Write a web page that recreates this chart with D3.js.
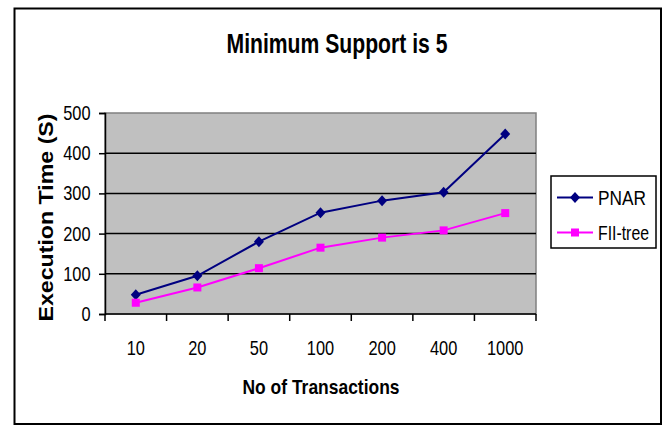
<!DOCTYPE html>
<html>
<head>
<meta charset="utf-8">
<script src="https://cdn.jsdelivr.net/npm/d3@7"></script>
<style>
  html, body { margin: 0; padding: 0; background: #fff; }
  svg { display: block; }
  text { font-family: "Liberation Sans Narrow", "Arial Narrow", "Liberation Sans", Arial, sans-serif; }
</style>
</head>
<body>
<svg id="chart" width="667" height="426"></svg>
<script>
const categories = ["10", "20", "50", "100", "200", "400", "1000"];
const pnarValues = [48, 95, 180, 252, 282, 303, 448];
const fiiTreeValues = [28, 66, 114, 165, 190, 208, 251];
const yTicks = [0, 100, 200, 300, 400, 500];
const seriesNames = ["PNAR", "FII-tree"];
const titleText = "Minimum Support is 5";
const xTitle = "No of Transactions";
const yTitle = "Execution Time (S)";

const NARROW = 0.82;
const svg = d3.select("#chart");

// outer frame
svg.append("rect")
  .attr("x", 14.5).attr("y", 8.5).attr("width", 646.5).attr("height", 415.5)
  .attr("fill", "#fff").attr("stroke", "#000").attr("stroke-width", 2);

const plot = { left: 105, right: 536, top: 113, bottom: 314 };

const x = d3.scaleBand().domain(categories).range([plot.left, plot.right]).padding(0);
const y = d3.scaleLinear().domain([0, 500]).range([plot.bottom, plot.top]);

// plot area
svg.append("rect")
  .attr("x", plot.left).attr("y", plot.top)
  .attr("width", plot.right - plot.left).attr("height", plot.bottom - plot.top)
  .attr("fill", "#C0C0C0").attr("stroke", "#808080").attr("stroke-width", 1.5);

// gridlines
svg.append("g").selectAll("line")
  .data(yTicks.filter(d => d > 0 && d < 500))
  .join("line")
  .attr("x1", plot.left).attr("x2", plot.right)
  .attr("y1", d => y(d)).attr("y2", d => y(d))
  .attr("stroke", "#000").attr("stroke-width", 1.5);

// y axis
const yAxis = svg.append("g")
  .attr("transform", `translate(${plot.left},0)`)
  .call(d3.axisLeft(y).tickValues(yTicks).tickSize(6).tickPadding(8).tickFormat(d3.format("d")));
yAxis.select(".domain").attr("stroke", "#000").attr("stroke-width", 1.5);
yAxis.selectAll(".tick line").attr("stroke", "#000").attr("stroke-width", 1.5);
yAxis.selectAll(".tick text")
  .attr("font-size", 20).attr("fill", "#000")
  .attr("x", -14.5 / NARROW)
  .attr("transform", `scale(${NARROW},1)`)
  .style("font-family", '"Liberation Sans", Arial, sans-serif');

// x axis (labels centered, ticks at band boundaries)
const xAxis = svg.append("g")
  .attr("transform", `translate(0,${plot.bottom})`)
  .call(d3.axisBottom(x).tickSize(0).tickPadding(27));
xAxis.select(".domain").remove();
xAxis.selectAll(".tick text")
  .attr("font-size", 20).attr("fill", "#000")
  .attr("transform", `scale(${NARROW},1)`)
  .style("font-family", '"Liberation Sans", Arial, sans-serif');
svg.append("line")
  .attr("x1", plot.left).attr("x2", plot.right)
  .attr("y1", plot.bottom).attr("y2", plot.bottom)
  .attr("stroke", "#000").attr("stroke-width", 1.5);
const boundaries = categories.map(c => x(c)).concat([x(categories[categories.length - 1]) + x.bandwidth()]);
svg.append("g").selectAll("line")
  .data(boundaries)
  .join("line")
  .attr("x1", d => d).attr("x2", d => d)
  .attr("y1", plot.bottom).attr("y2", plot.bottom + 7)
  .attr("stroke", "#000").attr("stroke-width", 1.5);

// series
const cx = c => x(c) + x.bandwidth() / 2;
const line = d3.line().x((d, i) => cx(categories[i])).y(d => y(d));

const wideDiamond = {
  draw(context, size) {
    const h = Math.sqrt(size) / 2;
    context.moveTo(0, -h * 1.1);
    context.lineTo(h, 0);
    context.lineTo(0, h * 1.1);
    context.lineTo(-h, 0);
    context.closePath();
  }
};
const diamond = d3.symbol().type(wideDiamond).size(100);

svg.append("path").datum(pnarValues)
  .attr("d", line).attr("fill", "none").attr("stroke", "#000080").attr("stroke-width", 2);
svg.append("path").datum(fiiTreeValues)
  .attr("d", line).attr("fill", "none").attr("stroke", "#FF00FF").attr("stroke-width", 2);

svg.append("g").selectAll("path")
  .data(pnarValues)
  .join("path")
  .attr("d", diamond)
  .attr("transform", (d, i) => `translate(${cx(categories[i])},${y(d)})`)
  .attr("fill", "#000080");

const sq = 8;
svg.append("g").selectAll("rect")
  .data(fiiTreeValues)
  .join("rect")
  .attr("x", (d, i) => cx(categories[i]) - sq / 2)
  .attr("y", d => y(d) - sq / 2)
  .attr("width", sq).attr("height", sq)
  .attr("fill", "#FF00FF");

// title
svg.append("text")
  .attr("x", 337).attr("y", 53)
  .attr("text-anchor", "middle")
  .attr("font-size", 27).attr("font-weight", "bold")
  .attr("textLength", 221).attr("lengthAdjust", "spacingAndGlyphs")
  .text(titleText);

// x title
svg.append("text")
  .attr("x", 321).attr("y", 394)
  .attr("text-anchor", "middle")
  .attr("font-size", 21).attr("font-weight", "bold")
  .attr("textLength", 157).attr("lengthAdjust", "spacingAndGlyphs")
  .text(xTitle);

// y title
svg.append("text")
  .attr("transform", "translate(53,217.5) rotate(-90)")
  .attr("text-anchor", "middle")
  .attr("font-size", 20).attr("font-weight", "bold")
  .style("font-family", '"Liberation Sans", Arial, sans-serif')
  .attr("textLength", 208).attr("lengthAdjust", "spacingAndGlyphs")
  .text(yTitle);

// legend
const lg = svg.append("g");
lg.append("rect")
  .attr("x", 551).attr("y", 176).attr("width", 105).attr("height", 72)
  .attr("fill", "#fff").attr("stroke", "#000").attr("stroke-width", 1.5);
const legendRows = [
  { name: seriesNames[0], color: "#000080", marker: "diamond", y: 197.5, w: 48 },
  { name: seriesNames[1], color: "#FF00FF", marker: "square", y: 232.5, w: 51 }
];
legendRows.forEach(r => {
  lg.append("line")
    .attr("x1", 557).attr("x2", 593).attr("y1", r.y).attr("y2", r.y)
    .attr("stroke", r.color).attr("stroke-width", 2);
  if (r.marker === "diamond") {
    lg.append("path").attr("d", diamond).attr("transform", `translate(575,${r.y})`).attr("fill", r.color);
  } else {
    lg.append("rect").attr("x", 575 - sq / 2).attr("y", r.y - sq / 2).attr("width", sq).attr("height", sq).attr("fill", r.color);
  }
  lg.append("text")
    .attr("x", 598).attr("y", r.y + 7)
    .attr("font-size", 21).attr("fill", "#000")
    .attr("textLength", r.w).attr("lengthAdjust", "spacingAndGlyphs")
    .text(r.name);
});
</script>
</body>
</html>
